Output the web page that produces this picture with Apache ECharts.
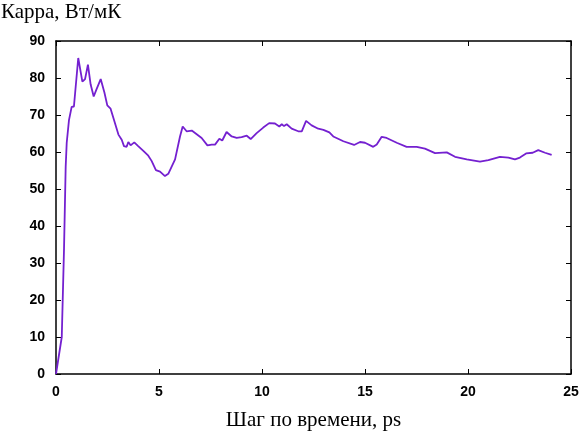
<!DOCTYPE html>
<html>
<head>
<meta charset="utf-8">
<script src="https://cdn.jsdelivr.net/npm/echarts@6/dist/echarts.min.js"></script>
<style>
  html, body { margin: 0; padding: 0; background: #fff; }
  #chart { width: 582px; height: 436px; }
</style>
</head>
<body>
<div id="chart"></div>
<script>
  // время, ps
  var timeSteps = [0, 0.28, 0.39, 0.47, 0.52, 0.63, 0.76, 0.87, 1.08, 1.28, 1.41, 1.55, 1.68, 1.83, 1.97, 2.17,
    2.35, 2.49, 2.65, 2.82, 3.03, 3.19, 3.30, 3.43, 3.51, 3.62, 3.80, 3.99, 4.24, 4.48, 4.64, 4.85, 5.05,
    5.29, 5.45, 5.78, 6.02, 6.15, 6.34, 6.59, 6.83, 7.07, 7.35, 7.56, 7.72, 7.93, 8.07, 8.28, 8.53, 8.77,
    9.01, 9.26, 9.45, 9.74, 10.06, 10.35, 10.63, 10.84, 10.96, 11.07, 11.2, 11.44, 11.76, 11.93, 12.14,
    12.41, 12.73, 12.98, 13.27, 13.46, 13.95, 14.47, 14.76, 15.0, 15.4, 15.57, 15.81, 16.05, 16.54, 17.02,
    17.51, 17.91, 18.4, 18.97, 19.37, 19.94, 20.58, 20.99, 21.55, 21.96, 22.28, 22.52, 22.82, 23.14, 23.41,
    23.74, 24.06];
  // каппа, Вт/мК
  var kappa = [0, 10, 34, 56, 62.5, 68.6, 72.2, 72.3, 85.4, 79, 79.7, 83.6, 78.3, 75, 77, 79.7,
    76.1, 72.6, 71.7, 68.6, 64.7, 63.3, 61.6, 61.4, 62.7, 61.8, 62.6, 61.6, 60.3, 59, 57.6, 55.1, 54.7,
    53.5, 54.1, 58, 64.2, 66.9, 65.6, 65.8, 64.8, 63.8, 61.8, 62, 62, 63.6, 63.1, 65.4, 64.2, 63.8,
    64, 64.4, 63.5, 65.1, 66.6, 67.8, 67.7, 66.9, 67.5, 67, 67.5, 66.3, 65.6, 65.6, 68.4,
    67.2, 66.3, 66, 65.3, 64.2, 62.9, 61.9, 62.7, 62.5, 61.4, 62, 64.1, 63.8, 62.5, 61.4,
    61.4, 60.9, 59.7, 59.9, 58.7, 58, 57.4, 57.8, 58.7, 58.5, 58, 58.5, 59.6, 59.8, 60.5,
    59.8, 59.2];
  var xTicks = [0, 25, 5], yTicks = [0, 90, 10];

  var chartDom = echarts.init(document.getElementById("chart")),
    lineColor = "#7420d0", axisColor = "#000",
    labelFont = {color: "#000", fontFamily: "Liberation Sans", fontWeight: "bold", fontSize: 14},
    points = timeSteps.map(function (t, i) { return [t, kappa[i]]; })
  ;

  function mkX(pos, show){
    return {
      type: "value", position: pos, min: xTicks[0], max: xTicks[1], interval: xTicks[2],
      axisLine: {show: true, onZero: false, lineStyle: {color: axisColor, width: 1.5}},
      axisTick: {show: true, inside: true, length: 5, lineStyle: {color: axisColor}},
      axisLabel: Object.assign({show: show, margin: 11}, labelFont),
      splitLine: {show: false}
    };
  }
  function mkY(pos, show){
    return {
      type: "value", position: pos, min: yTicks[0], max: yTicks[1], interval: yTicks[2],
      axisLine: {show: true, onZero: false, lineStyle: {color: axisColor, width: 1.5}},
      axisTick: {show: true, inside: true, length: 5, lineStyle: {color: axisColor}},
      axisLabel: Object.assign({show: show, margin: 11}, labelFont),
      splitLine: {show: false}
    };
  }

  var xMain = mkX("bottom", true);
  xMain.name = "Шаг по времени, ps";
  xMain.nameLocation = "middle";
  xMain.nameGap = 36;
  xMain.nameTextStyle = {color: "#000", fontFamily: "Liberation Serif", fontSize: 21};

  var option = {
    animation: false,
    backgroundColor: "#fff",
    title: {
      text: "Карра, Вт/мК", left: -4, top: -3,
      textStyle: {color: "#000", fontFamily: "Liberation Serif", fontWeight: "normal", fontSize: 21}
    },
    grid: {left: 56, right: 11, top: 41, bottom: 55, containLabel: false},
    xAxis: [xMain, mkX("top", false)],
    yAxis: [mkY("left", true), mkY("right", false)],
    series: [{
      type: "line",
      data: points,
      showSymbol: false,
      smooth: false,
      lineStyle: {color: lineColor, width: 1.8},
      itemStyle: {color: lineColor}
    }]
  };
  chartDom.setOption(option);
</script>
</body>
</html>
